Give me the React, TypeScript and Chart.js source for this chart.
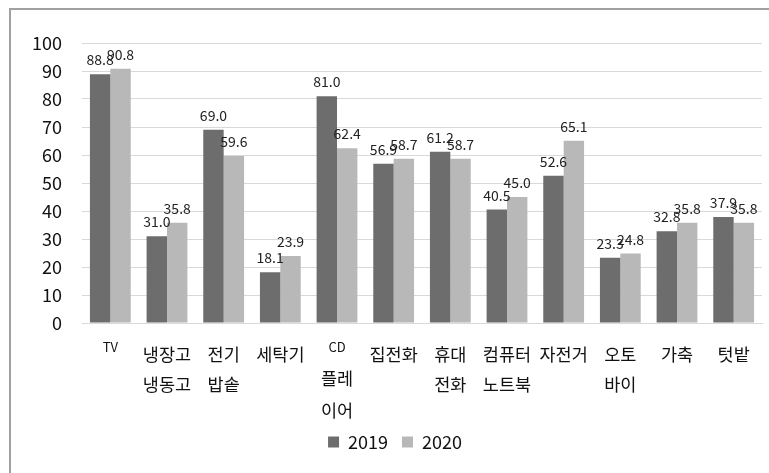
import React, { useEffect, useRef } from "react";
import { Chart, registerables } from "chart.js";

Chart.register(...registerables);

const categories: string[][] = [
  ["TV"],
  ["냉장고", "냉동고"],
  ["전기", "밥솥"],
  ["세탁기"],
  ["CD", "플레", "이어"],
  ["집전화"],
  ["휴대", "전화"],
  ["컴퓨터", "노트북"],
  ["자전거"],
  ["오토", "바이"],
  ["가축"],
  ["텃밭"],
];
const values2019 = [88.8, 31.0, 69.0, 18.1, 81.0, 56.9, 61.2, 40.5, 52.6, 23.3, 32.8, 37.9];
const values2020 = [90.8, 35.8, 59.6, 23.9, 62.4, 58.7, 58.7, 45.0, 65.1, 24.8, 35.8, 35.8];
const seriesNames = ["2019", "2020"];
const yTicks = [0, 10, 20, 30, 40, 50, 60, 70, 80, 90, 100];

const FONT = "'Noto Sans CJK KR', 'Noto Sans', sans-serif";

const valueLabels = {
  id: "valueLabels",
  afterDatasetsDraw(chart: any) {
    const ctx = chart.ctx;
    ctx.save();
    ctx.font = `14px ${FONT}`;
    ctx.fillStyle = "#222";
    ctx.textAlign = "center";
    ctx.textBaseline = "alphabetic";
    chart.data.datasets.forEach((ds: any, di: number) => {
      const meta = chart.getDatasetMeta(di);
      meta.data.forEach((el: any, i: number) => {
        ctx.fillText(Number(ds.data[i]).toFixed(1), el.x, el.y - 9);
      });
    });
    ctx.restore();
  },
};

const categoryLabels = {
  id: "categoryLabels",
  afterDraw(chart: any) {
    const ctx = chart.ctx;
    const xs = chart.scales.x;
    const base = chart.chartArea.bottom;
    ctx.save();
    ctx.fillStyle = "#111";
    ctx.textAlign = "center";
    ctx.textBaseline = "middle";
    categories.forEach((lines, i) => {
      const x = xs.getPixelForValue(i);
      const multi = lines.length > 2;
      lines.forEach((line, k) => {
        const latin = /^[A-Za-z]+$/.test(line);
        ctx.font = latin ? `13px ${FONT}` : `17.5px ${FONT}`;
        let y = base + 31 + k * 30;
        if (latin) y = base + 24;
        if (multi && !latin) y = base + 23 + k * 32;
        ctx.fillText(line, x, y);
      });
    });
    ctx.restore();
  },
};

export default function App() {
  const ref = useRef<HTMLCanvasElement | null>(null);
  useEffect(() => {
    if (!ref.current) return;
    const chart = new Chart(ref.current, {
      type: "bar",
      data: {
        labels: categories.map((c) => c.join(" ")),
        datasets: [
          {
            label: seriesNames[0],
            data: values2019,
            backgroundColor: "#6d6d6d",
            categoryPercentage: 0.72,
            barPercentage: 1,
          },
          {
            label: seriesNames[1],
            data: values2020,
            backgroundColor: "#b8b8b8",
            categoryPercentage: 0.72,
            barPercentage: 1,
          },
        ],
      },
      options: {
        animation: false,
        responsive: false,
        devicePixelRatio: 1,
        layout: { padding: { left: 28, right: 7, top: 43, bottom: 12 } },
        plugins: {
          tooltip: { enabled: false },
          legend: {
            position: "bottom",
            labels: {
              boxWidth: 11,
              boxHeight: 11,
              padding: 14,
              color: "#111",
              font: { family: FONT, size: 18 },
            },
          },
        },
        scales: {
          x: {
            grid: { display: false, drawTicks: false },
            border: { color: "#d9d9d9", width: 1 },
            ticks: { display: false },
            afterFit: (s: any) => {
              s.height = 96;
            },
          },
          y: {
            min: 0,
            max: 100,
            afterBuildTicks: (s: any) => {
              s.ticks = yTicks.map((v) => ({ value: v }));
            },
            grid: { color: "#d9d9d9", drawTicks: false },
            border: { display: false },
            ticks: {
              padding: 20,
              color: "#111",
              font: { family: FONT, size: 18 },
            },
            afterFit: (s: any) => {
              s.width = 54;
            },
          },
        },
      },
      plugins: [valueLabels, categoryLabels],
    });
    return () => chart.destroy();
  }, []);

  return (
    <div
      style={{
        position: "fixed",
        left: 0,
        top: 0,
        width: 769,
        height: 473,
        background: "#fff",
        overflow: "hidden",
      }}
    >
      <div
        style={{
          position: "absolute",
          left: 9,
          top: 8,
          width: 800,
          height: 500,
          border: "2px solid #a0a0a0",
          boxSizing: "border-box",
        }}
      />
      <canvas
        ref={ref}
        width={769}
        height={473}
        style={{ position: "absolute", left: 0, top: 0, width: 769, height: 473 }}
      />
    </div>
  );
}
